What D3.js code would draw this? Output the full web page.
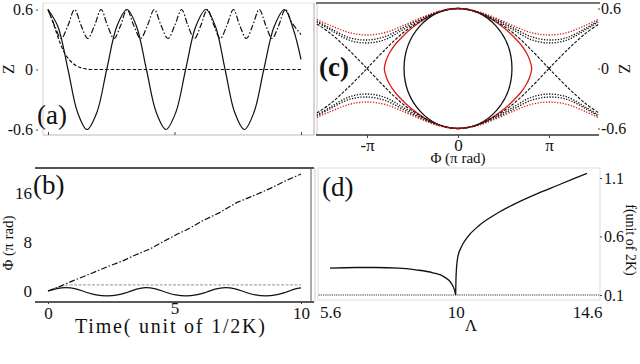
<!DOCTYPE html>
<html>
<head>
<meta charset="utf-8">
<script src="https://cdn.jsdelivr.net/npm/d3@7"></script>
<style>
body { margin: 0; background: #fff; }
svg text { font-family: "Liberation Serif", "Times New Roman", serif; fill: #111; }
</style>
</head>
<body>
<script>
// ---- panel (a): Z vs time ----
var tSolidA = [0,0.39,0.79,1.17,1.54,1.93,2.32,2.72,3.12,3.5,3.89,4.28,4.66,5.05,5.44,5.84,6.24,6.62,7.0,7.38,7.76,8.14,8.53,8.94,9.35,9.7,10.0];
var zSolidA = [0.6,0.43,0,-0.43,-0.6,-0.43,0,0.43,0.6,0.43,0,-0.43,-0.6,-0.43,0,0.43,0.6,0.43,0,-0.43,-0.6,-0.43,0,0.43,0.6,0.4,0.1];

var tDashDotA = [0,0.26,0.52,0.79,1.05,1.31,1.57,1.84,2.1,2.35,2.61,2.87,3.12,3.39,3.66,3.93,4.2,4.47,4.74,5.01,5.28,5.53,5.79,6.04,6.3,6.56,6.81,7.07,7.33,7.58,7.84,8.09,8.35,8.61,8.86,9.12,9.38,9.64,10.0];
var zDashDotA = [0.6,0.44,0.31,0.44,0.6,0.44,0.31,0.44,0.6,0.44,0.31,0.44,0.6,0.44,0.31,0.44,0.6,0.44,0.31,0.44,0.6,0.44,0.31,0.44,0.6,0.44,0.31,0.44,0.6,0.44,0.31,0.44,0.6,0.44,0.31,0.44,0.6,0.47,0.35];

var tDashA = [0,0.16,0.32,0.47,0.67,0.87,1.1,1.42,1.74,10];
var zDashA = [0.6,0.5,0.38,0.27,0.16,0.09,0.04,0.01,0,0];

// ---- panel (b): phase vs time ----
var tDashDotB = [0,0.5,1.0,1.66,2.3,2.96,3.5,4.03,4.6,5.1,5.6,6.1,6.8,7.45,8.1,8.77,9.4,10];
var pDashDotB = [0,0.8,1.7,2.8,3.9,4.95,6.0,6.9,8.2,9.3,10.3,11.5,12.9,14.5,15.6,16.8,18.1,19.2];

var tGrayB = [0,0.3,0.6,0.9,10];
var pGrayB = [0,0.5,0.85,1.0,1.0];

var tSolidB = [0,0.35,0.7,1.1,1.5,1.9,2.33,2.75,3.15,3.5,3.85,4.25,4.65,5.05,5.45,5.85,6.25,6.6,7.0,7.4,7.8,8.2,8.6,9.0,9.4,9.75,10];
var pSolidB = [0,0.4,0.55,0.35,-0.2,-0.65,-0.8,-0.65,-0.2,0.3,0.55,0.35,-0.2,-0.65,-0.8,-0.65,-0.2,0.3,0.55,0.35,-0.2,-0.65,-0.8,-0.65,-0.2,0.3,0.5];

// ---- panel (c): phase portrait (phi in units of pi), upper halves ----
var phiGrid   = [-1.55,-1.4,-1.2,-1,-0.8,-0.6,-0.4,-0.2,0,0.2,0.4,0.6,0.8,1,1.2,1.4,1.54];
var zRedDot   = [0.49,0.43,0.36,0.335,0.36,0.43,0.51,0.575,0.6,0.575,0.51,0.43,0.36,0.335,0.36,0.43,0.49];
var zBlackDot1= [0.475,0.40,0.31,0.285,0.32,0.41,0.50,0.57,0.6,0.57,0.50,0.41,0.32,0.285,0.31,0.40,0.475];
var zBlackDot2= [0.465,0.385,0.285,0.255,0.29,0.39,0.49,0.565,0.6,0.565,0.49,0.39,0.29,0.255,0.285,0.385,0.465];

var phiSepL = [-1.55,-1.4,-1.2,-1];
var zSepL   = [0.445,0.35,0.185,0];
var phiSepM = [-1,-0.8,-0.6,-0.4,-0.2,0,0.2,0.4,0.6,0.8,1];
var zSepM   = [0,0.19,0.36,0.48,0.57,0.6,0.57,0.48,0.36,0.19,0];
var phiSepR = [1,1.2,1.4,1.54];
var zSepR   = [0,0.185,0.35,0.44];

var phiRed = [-0.81,-0.79,-0.75,-0.69,-0.62,-0.54,-0.44,-0.32,-0.18,0,0.18,0.32,0.44,0.54,0.62,0.69,0.75,0.79,0.81];
var zRed   = [0,0.08,0.16,0.24,0.31,0.38,0.45,0.52,0.575,0.6,0.575,0.52,0.45,0.38,0.31,0.24,0.16,0.08,0];

var circleOrbit = [0.593, 0.6]; // half-width (pi units), half-height

// ---- panel (d): frequency vs Lambda ----
var lamLeft  = [5.6,6.5,7.2,8.0,8.6,9.2,9.6,9.85,9.95,10.0];
var fLeft    = [0.33,0.335,0.335,0.33,0.315,0.29,0.255,0.2,0.15,0.1];
var lamRight = [10.0,10.01,10.03,10.08,10.2,10.4,10.8,11.4,12.0,12.8,13.6,14.6];
var fRight   = [0.1,0.22,0.33,0.43,0.51,0.59,0.69,0.79,0.87,0.96,1.04,1.14];
var lamBase  = [5.2,15.05];
var fBase    = [0.1,0.1];

// tick labels
var tickZ = ["-0.6","0","0.6"];
var tickPhiB = ["0","8","16"];
var tickTime = ["0","5","10"];
var tickPi = ["-\u03c0","0","\u03c0"];
var tickLam = ["5.6","10","14.6"];
var tickF = ["0.1","0.6","1.1"];

function zip(xs, ys) { return xs.map(function(x, i) { return [x, ys[i]]; }); }

var svg = d3.select("body").append("svg")
    .attr("width", 640)
    .attr("height", 364);

//Scales
var xA = d3.scaleLinear().domain([0,10]).range([48,301]);
var yA = d3.scaleLinear().domain([-0.6,0.6]).range([129.5,9.5]);
var yB = d3.scaleLinear().domain([0,16]).range([291,193.5]);
var xC = d3.scaleLinear().domain([-1,1]).range([367,549]);
var yC = d3.scaleLinear().domain([-0.6,0.6]).range([128.5,8.5]);
var xD = d3.scaleLinear().domain([5.6,14.6]).range([330,587]);
var yD = d3.scaleLinear().domain([0.1,1.1]).range([295,178]);

function hline(x1, x2, y, color, w) {
    svg.append("line").attr("x1", x1).attr("x2", x2).attr("y1", y).attr("y2", y)
        .attr("stroke", color).attr("stroke-width", w);
}
function vline(x, y1, y2, color, w) {
    svg.append("line").attr("x1", x).attr("x2", x).attr("y1", y1).attr("y2", y2)
        .attr("stroke", color).attr("stroke-width", w);
}
function drawPath(data, x, y, curve, color, dash, w) {
    svg.append("path")
        .datum(data)
        .attr("fill", "none")
        .attr("stroke", color)
        .attr("stroke-width", w || 1.2)
        .attr("stroke-dasharray", dash || null)
        .attr("d", d3.line().x(function(d){ return x(d[0]); }).y(function(d){ return y(d[1]); }).curve(curve));
}
function styleAxis(g, size) {
    g.select(".domain").remove();
    g.selectAll("text").attr("font-size", size).attr("fill", "#111");
    g.selectAll("line").attr("stroke", "#444");
}

//Frames
hline(43, 314, 3, "#e4e4e4", 1);
vline(43, 3, 135, "#d0d0d0", 1);
hline(43, 314, 135, "#bbb", 1);
vline(314, 3, 135, "#aaa", 1);

hline(35, 314, 168, "#555", 2);
hline(35, 314, 302, "#222", 1.5);
vline(315, 168, 302, "#ccc", 1);
vline(311, 168, 302, "#555", 1);

vline(317, 3, 135, "#ccc", 1);
hline(316, 600, 3, "#777", 2);
hline(316, 599, 135, "#333", 1.3);

svg.append("rect").attr("x", 318).attr("y", 168).attr("width", 282).attr("height", 132)
    .attr("fill", "none").attr("stroke", "#ddd");

//Panel (a)
var curve = d3.curveCatmullRom;
drawPath(zip(tDashA, zDashA), xA, yA, d3.curveMonotoneX, "#111", "3.5,2");
drawPath(zip(tDashDotA, zDashDotA), xA, yA, curve, "#111", "6,2,1.5,2");
drawPath(zip(tSolidA, zSolidA), xA, yA, curve, "#111");

svg.append("g").attr("transform", "translate(36,0)")
    .call(d3.axisLeft(yA).tickValues([-0.6,0,0.6]).tickFormat(function(d,i){ return tickZ[i]; }).tickSize(-2).tickPadding(3))
    .call(styleAxis, 16);
svg.append("g").attr("transform", "translate(0,135)")
    .call(d3.axisBottom(xA).tickValues([0,5,10]).tickFormat("").tickSize(-3))
    .call(styleAxis, 16);

svg.append("text").attr("transform", "translate(14,69) rotate(-90)")
    .attr("text-anchor", "middle").attr("font-size", 16).text("Z");
svg.append("text").attr("x", 37).attr("y", 124).attr("font-size", 27).text("(a)");

//Panel (b)
drawPath(zip(tGrayB, pGrayB), xA, yB, d3.curveMonotoneX, "#aaa", "3,1.5", 1.1);
drawPath(zip(tDashDotB, pDashDotB), xA, yB, d3.curveLinear, "#111", "6,2,1.5,2");
drawPath(zip(tSolidB, pSolidB), xA, yB, curve, "#111");

svg.append("g").attr("transform", "translate(35,0)")
    .call(d3.axisLeft(yB).tickValues([0,8,16]).tickFormat(function(d,i){ return tickPhiB[i]; }).tickSize(0).tickPadding(3))
    .call(styleAxis, 17);
var gbx = svg.append("g").attr("transform", "translate(0,302)")
    .call(d3.axisBottom(xA).tickValues([0,5,10]).tickFormat(function(d,i){ return tickTime[i]; }).tickSize(2).tickPadding(3))
    .call(styleAxis, 17);
gbx.selectAll("text").filter(function(d){ return d === 5; }).attr("y", 0);

svg.append("text").attr("transform", "translate(13,243) rotate(-90)")
    .attr("text-anchor", "middle").attr("font-size", 15).text("\u03a6 (\u03c0 rad)");
svg.append("text").attr("x", 170).attr("y", 333).attr("text-anchor", "middle")
    .attr("font-size", 20).attr("textLength", 190).attr("lengthAdjust", "spacing")
    .text("Time( unit  of 1/2K)");
svg.append("text").attr("x", 33).attr("y", 194).attr("font-size", 27).text("(b)");

//Panel (c)
var cxp = xC(0), cyp = yC(0);
svg.append("ellipse")
    .attr("cx", cxp).attr("cy", cyp)
    .attr("rx", xC(circleOrbit[0]) - cxp)
    .attr("ry", cyp - yC(circleOrbit[1]))
    .attr("fill", "none").attr("stroke", "#111").attr("stroke-width", 1.3);

var redLoop = zip(phiRed, zRed).concat(zip(phiRed, zRed).slice(1, -1).reverse().map(function(d){ return [d[0], -d[1]]; }));
drawPath(redLoop, xC, yC, d3.curveCatmullRomClosed, "#e01b1b", null, 1.3);

var yCneg = function(v) { return yC(-v); };
[[phiSepL, zSepL], [phiSepM, zSepM], [phiSepR, zSepR]].forEach(function(s) {
    drawPath(zip(s[0], s[1]), xC, yC, curve, "#111", "3,1.5", 1.1);
    drawPath(zip(s[0], s[1]), xC, yCneg, curve, "#111", "3,1.5", 1.1);
});
[[zBlackDot1, "#111"], [zBlackDot2, "#111"], [zRedDot, "#e01b1b"]].forEach(function(s) {
    drawPath(zip(phiGrid, s[0]), xC, yC, curve, s[1], "1.3,1.5", 1.3);
    drawPath(zip(phiGrid, s[0]), xC, yCneg, curve, s[1], "1.3,1.5", 1.3);
});

svg.append("g").attr("transform", "translate(0,135)")
    .call(d3.axisBottom(xC).tickValues([-1,0,1]).tickFormat(function(d,i){ return tickPi[i]; }).tickSize(3).tickPadding(1))
    .call(styleAxis, 17);
svg.append("g").attr("transform", "translate(598,0)")
    .call(d3.axisRight(yC).tickValues([-0.6,0,0.6]).tickFormat(function(d,i){ return tickZ[i]; }).tickSize(2).tickPadding(1))
    .call(styleAxis, 16);

svg.append("text").attr("transform", "translate(619,69) rotate(90)")
    .attr("text-anchor", "middle").attr("font-size", 16).text("Z");
svg.append("text").attr("x", 458).attr("y", 163).attr("text-anchor", "middle")
    .attr("font-size", 15).text("\u03a6 (\u03c0 rad)");
svg.append("text").attr("x", 319).attr("y", 76).attr("font-size", 27).attr("font-weight", "bold").text("(c)");

//Panel (d)
drawPath(zip(lamBase, fBase), xD, yD, d3.curveLinear, "#333", "1.2,1", 1.2);
drawPath(zip(lamLeft, fLeft), xD, yD, d3.curveMonotoneX, "#111", null, 1.3);
drawPath(zip(lamRight, fRight), xD, yD, d3.curveMonotoneX, "#111", null, 1.3);

svg.append("g").attr("transform", "translate(0,300)")
    .call(d3.axisBottom(xD).tickValues([5.6,10,14.6]).tickFormat(function(d,i){ return tickLam[i]; }).tickSize(0).tickPadding(6))
    .call(styleAxis, 17);
svg.append("g").attr("transform", "translate(600,0)")
    .call(d3.axisRight(yD).tickValues([0.1,0.6,1.1]).tickFormat(function(d,i){ return tickF[i]; }).tickSize(2).tickPadding(2))
    .call(styleAxis, 16);

svg.append("text").attr("x", 471).attr("y", 331).attr("text-anchor", "middle")
    .attr("font-size", 17).text("\u039b");
svg.append("text").attr("transform", "translate(626,240) rotate(90)")
    .attr("text-anchor", "middle").attr("font-size", 14).text("f(unit of 2K)");
svg.append("text").attr("x", 322).attr("y", 196).attr("font-size", 27).text("(d)");

//cropped caption remnants at the bottom edge
svg.append("text").attr("x", 43).attr("y", 377).attr("font-size", 18).style("fill", "#bbb").text("(c)");
svg.append("text").attr("x", 133).attr("y", 377).attr("font-size", 18).style("fill", "#bbb").text("(d)");

// serif everywhere, including axis labels
svg.selectAll("text").style("font-family", "'Liberation Serif', 'Times New Roman', serif");
</script>
</body>
</html>
